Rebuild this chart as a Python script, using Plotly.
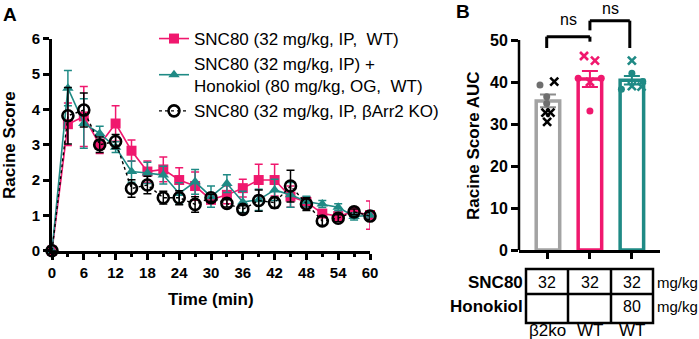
import plotly.graph_objects as go

W, H = 699, 339
def px(x): return x / W
def py(y): return 1 - y / H

FONT = "Liberation Sans, Arial, sans-serif"
PINK = "#F0186E"
TEAL = "#1F8A85"
GREY = "#A3A3A3"

# ---------------- Panel A data ----------------
time_min = [0, 3, 6, 9, 12, 15, 18, 21, 24, 27, 30, 33, 36, 39, 42, 45, 48, 51, 54, 57, 60]
snc80_wt = [0, 3.58, 3.80, 3.00, 3.60, 2.83, 2.24, 2.30, 2.00, 1.83, 1.44, 1.58, 1.77, 2.00, 2.00, 1.53, 1.38, 1.05, 0.98, 1.10, 1.01]
snc80_wt_err = [0, 0.60, 0.85, 0.25, 0.50, 0.30, 0.30, 0.35, 0.35, 0.40, 0.10, 0.25, 0.25, 0.45, 0.45, 0.30, 0.15, 0.10, 0.10, 0.10, 0.40]
snc80_hon = [0, 4.60, 3.60, 3.32, 2.93, 2.24, 2.20, 2.14, 1.62, 1.95, 1.53, 1.90, 1.38, 1.44, 1.72, 1.58, 1.39, 1.32, 1.23, 0.97, 1.00]
snc80_hon_err = [0, 0.50, 0.70, 0.20, 0.15, 0.30, 0.30, 0.25, 0.30, 0.35, 0.30, 0.25, 0.30, 0.30, 0.30, 0.35, 0.15, 0.10, 0.10, 0.10, 0.10]
snc80_ko = [0, 3.82, 3.98, 3.00, 3.09, 1.76, 1.86, 1.50, 1.50, 1.31, 1.50, 1.34, 1.17, 1.42, 1.36, 1.83, 1.32, 0.84, 0.92, 1.10, 0.98]
snc80_ko_err = [0, 0.80, 0.48, 0.22, 0.20, 0.25, 0.25, 0.18, 0.20, 0.22, 0.10, 0.10, 0.10, 0.30, 0.15, 0.45, 0.18, 0.12, 0.10, 0.08, 0.10]

legend_names = ["SNC80 (32 mg/kg, IP,  WT)",
                "SNC80 (32 mg/kg, IP) +<br>Honokiol (80 mg/kg, OG,  WT)",
                "SNC80 (32 mg/kg, IP, βArr2 KO)"]

# ---------------- Panel B data ----------------
group_pos = [0, 1, 2]
genotypes = ["β2ko", "WT", "WT"]
snc80_doses = ["32", "32", "32"]
honokiol_doses = ["", "", "80"]
auc_mean = [35.5, 40.7, 40.4]
auc_sem = [1.5, 1.9, 1.0]
bar_colors = [GREY, PINK, TEAL]
err_colors = ["#8C8C8C", PINK, TEAL]

# individual animals (dots and crosses) per group
ko_dots = [39.3, 36.5, 34.9]
ko_crosses = [40.1, 32.7, 32.7, 30.5]
wt_dots = [40.9, 40.9, 33.1]
wt_crosses = [46.2, 45.1, 40.0]
hon_dots = [42.1, 38.3, 40.1]
hon_crosses = [45.1, 39.0, 38.9]
# horizontal scatter offsets (layout only)
ko_dots_off = [-0.19, -0.03, -0.03]
ko_crosses_off = [0.15, -0.06, 0.06, -0.02]
wt_dots_off = [-0.28, 0.27, 0.0]
wt_crosses_off = [-0.14, 0.12, 0.0]
hon_dots_off = [0.0, -0.25, 0.26]
hon_crosses_off = [0.0, 0.0, 0.23]

fig = go.Figure()

def line_trace(y, err, color, symbol, name, size, dash="solid", open_marker=False, lw=1.6):
    return go.Scatter(
        x=time_min, y=y, name=name, mode="lines+markers",
        line=dict(color=color, width=lw, dash=dash),
        marker=dict(symbol=symbol, size=size, color=color,
                    line=dict(color=color, width=2.6 if open_marker else 0)),
        error_y=dict(type="data", array=err, color=color, thickness=1.5, width=4),
        cliponaxis=False, xaxis="x", yaxis="y")

fig.add_trace(line_trace(snc80_wt, snc80_wt_err, PINK, "square", legend_names[0], 10))
fig.add_trace(line_trace(snc80_hon, snc80_hon_err, TEAL, "triangle-up", legend_names[1], 10))
fig.add_trace(line_trace(snc80_ko, snc80_ko_err, "black", "circle-open", legend_names[2], 11,
                         dash="3px,3px", open_marker=True, lw=1.4))

# Panel B bars
fig.add_trace(go.Bar(
    x=group_pos, y=auc_mean, width=0.56,
    marker=dict(color="white", line=dict(color=bar_colors, width=3.5)),
    showlegend=False, xaxis="x2", yaxis="y2", hoverinfo="skip"))
for i in range(3):
    fig.add_trace(go.Scatter(
        x=[group_pos[i]], y=[auc_mean[i]], mode="markers",
        marker=dict(size=1, color=err_colors[i]),
        error_y=dict(type="data", array=[auc_sem[i]], color=err_colors[i], thickness=2, width=8),
        showlegend=False, xaxis="x2", yaxis="y2", hoverinfo="skip"))

def pts(vals, offs, g, color, symbol):
    is_x = symbol == "x-thin"
    return go.Scatter(
        x=[group_pos[g] + o for o in offs], y=vals, mode="markers",
        marker=dict(symbol=symbol, size=8 if is_x else 7, color=color,
                    line=dict(color=color, width=2.6 if is_x else 0)),
        showlegend=False, cliponaxis=False, xaxis="x2", yaxis="y2")

fig.add_trace(pts(ko_dots, ko_dots_off, 0, "#6E6E6E", "circle"))
fig.add_trace(pts(ko_crosses, ko_crosses_off, 0, "black", "x-thin"))
fig.add_trace(pts(wt_dots, wt_dots_off, 1, PINK, "circle"))
fig.add_trace(pts(wt_crosses, wt_crosses_off, 1, PINK, "x-thin"))
fig.add_trace(pts(hon_dots, hon_dots_off, 2, TEAL, "circle"))
fig.add_trace(pts(hon_crosses, hon_crosses_off, 2, TEAL, "x-thin"))

tickA = dict(family=FONT, size=15, color="black", weight="bold")
tickB = dict(family=FONT, size=16, color="black", weight="bold")

shapes = []
annotations = []

def ann(text, x, y, size=16, bold=False, xanchor="center", angle=0, xref="paper", yref="paper"):
    f = dict(family=FONT, size=size, color="black")
    if bold:
        f["weight"] = "bold"
    return dict(text=text, xref=xref, yref=yref, x=x, y=y, xanchor=xanchor, yanchor="middle",
                textangle=angle, showarrow=False, font=f, borderpad=0)

# significance brackets (data coordinates of panel B)
for xs, ys in [([-0.03, -0.03, 1.0, 1.0], [48.1, 50.8, 50.8, 49.6]),
               ([1.0, 1.0, 1.95, 1.95], [52.3, 54.6, 54.6, 48.1])]:
    for k in range(3):
        shapes.append(dict(type="line", xref="x2", yref="y2", x0=xs[k], x1=xs[k + 1],
                           y0=ys[k], y1=ys[k + 1], line=dict(color="black", width=3)))
annotations.append(ann("ns", 0.48, 54.8, xref="x2", yref="y2"))
annotations.append(ann("ns", 1.48, 57.6, xref="x2", yref="y2"))
# y axis line of panel B (only up to 50)
shapes.append(dict(type="line", xref="x2 domain", yref="y2", x0=0, x1=0, y0=0, y1=50,
                   line=dict(color="black", width=2.5)))

# table under panel B
tl, tr_, tt, tb, tm = 526, 653, 269, 323, 294
cols = [526, 568, 611, 653]
shapes.append(dict(type="rect", xref="paper", yref="paper", x0=px(tl), x1=px(tr_),
                   y0=py(tb), y1=py(tt), line=dict(color="black", width=2.5)))
for c in cols[1:-1]:
    shapes.append(dict(type="line", xref="paper", yref="paper", x0=px(c), x1=px(c),
                       y0=py(tb), y1=py(tt), line=dict(color="black", width=2.5)))
shapes.append(dict(type="line", xref="paper", yref="paper", x0=px(tl), x1=px(tr_),
                   y0=py(tm), y1=py(tm), line=dict(color="black", width=2.5)))
for i in range(3):
    cx = (cols[i] + cols[i + 1]) / 2
    annotations.append(ann(snc80_doses[i], px(cx), py(282)))
    if honokiol_doses[i]:
        annotations.append(ann(honokiol_doses[i], px(cx), py(306)))
    annotations.append(ann(genotypes[i], px(cx), py(330), size=17))
for yy in (282, 306):
    annotations.append(ann("mg/kg", px(656), py(yy), size=15, xanchor="left"))
annotations.append(ann("SNC80", px(524), py(282), size=17, bold=True, xanchor="right"))
annotations.append(ann("Honokiol", px(524), py(306), size=17, bold=True, xanchor="right"))

# axis titles and panel letters
annotations += [
    ann("Racine Score", px(10), py(145), size=17, bold=True, angle=-90),
    ann("Time (min)", px(211), py(299), size=17, bold=True),
    ann("Racine Score AUC", px(473), py(146), size=17, bold=True, angle=-90),
    ann("A", px(10), py(14), size=19, bold=True),
    ann("B", px(463), py(11), size=19, bold=True),
]

fig.update_layout(
    width=W, height=H, margin=dict(l=0, r=0, t=0, b=0),
    paper_bgcolor="white", plot_bgcolor="white",
    font=dict(family=FONT, color="black"),
    showlegend=True,
    legend=dict(x=px(154), y=py(21), xanchor="left", yanchor="top",
                bgcolor="rgba(0,0,0,0)", font=dict(family=FONT, size=17, color="black"),
                tracegroupgap=0, itemwidth=30),
    xaxis=dict(domain=[px(52), px(370)], range=[0, 60], tickvals=list(range(0, 61, 6)),
               showline=True, linecolor="black", linewidth=3, ticks="outside", ticklen=6,
               tickwidth=3, tickcolor="black", tickfont=tickA, showgrid=False, zeroline=False,
               minor=dict(dtick=3, ticks="outside", ticklen=3, tickwidth=3, tickcolor="black"),
               automargin=False, anchor="y"),
    yaxis=dict(domain=[py(250.7), py(38.7)], range=[0, 6], tickvals=list(range(0, 7)),
               showline=True, linecolor="black", linewidth=3, ticks="outside", ticklen=6,
               tickwidth=3, tickcolor="black", tickfont=tickA, showgrid=False, zeroline=False,
               automargin=False, anchor="x"),
    xaxis2=dict(domain=[px(519), px(660)], range=[-0.69, 2.67], tickvals=group_pos,
                ticktext=["", "", ""], showline=True, linecolor="black", linewidth=2.5,
                ticks="outside", ticklen=6, tickwidth=2.5, tickcolor="black",
                showgrid=False, zeroline=False, automargin=False, anchor="y2"),
    yaxis2=dict(domain=[py(250), 1], range=[0, 250 / 4.2], tickvals=list(range(0, 51, 10)),
                showline=False, ticks="outside", ticklen=7, tickwidth=2.5, tickcolor="black",
                tickfont=tickB, showgrid=False, zeroline=False, automargin=False, anchor="x2"),
    shapes=shapes, annotations=annotations,
)

fig.write_html("out.html", config={"displayModeBar": False},
               post_script="document.body.style.margin='0';document.body.style.overflow='hidden';")
